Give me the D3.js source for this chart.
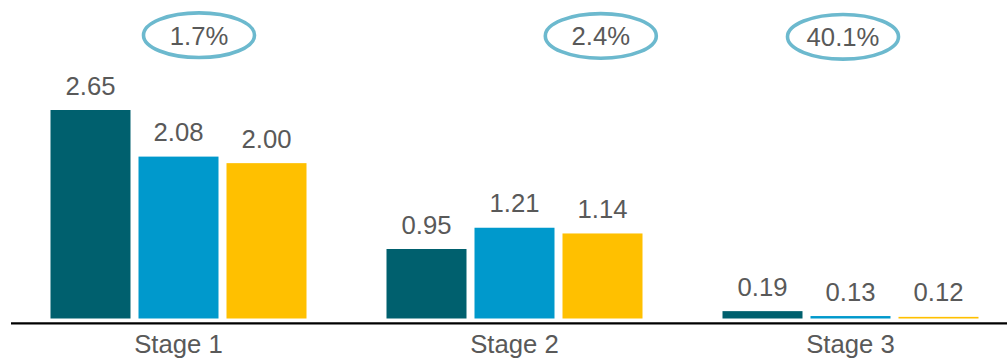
<!DOCTYPE html>
<html>
<head>
<meta charset="utf-8">
<script src="https://cdn.jsdelivr.net/npm/d3@7"></script>
<style>
  html, body { margin: 0; padding: 0; background: #ffffff; }
  svg { display: block; font-family: "Liberation Sans", Arial, sans-serif; }
</style>
</head>
<body>
<svg id="chart" width="1007" height="358"></svg>
<script>
// ---- data ----
const categories = ["Stage 1", "Stage 2", "Stage 3"];
const seriesNames = ["A", "B", "C"];
const seriesA = [2.65, 0.95, 0.19];
const seriesB = [2.08, 1.21, 0.13];
const seriesC = [2.00, 1.14, 0.12];
const annotationLabels = ["1.7%", "2.4%", "40.1%"];

// ---- layout / style ----
const W = 1007, H = 358;
const colors = ["#00606E", "#0099CC", "#FFC000"];
const textColor = "#595959";
const ellipseColor = "#6CB9CE";
const annotationPos = [[199, 35.2], [600.8, 35.9], [843, 36.8]];
const fontSize = 25.7;

const svg = d3.select("#chart");

const x0 = d3.scaleBand().domain(categories).range([10.5, 1018.5]).padding(0);
const x1 = d3.scaleBand().domain(seriesNames).range([0, 264])
  .paddingInner(8 / 88).paddingOuter(4 / 88);
const y = d3.scaleLinear().domain([0.1, 2.65]).range([318.5, 110]);
const color = d3.scaleOrdinal().domain(seriesNames).range(colors);

const allSeries = [seriesA, seriesB, seriesC];
const rows = categories.map((c, i) => ({
  cat: c,
  vals: seriesNames.map((s, j) => ({ s, v: allSeries[j][i] }))
}));

const groups = svg.append("g").selectAll("g").data(rows).join("g")
  .attr("transform", d => `translate(${x0(d.cat) + x0.bandwidth() / 2 - 132},0)`);

groups.selectAll("rect").data(d => d.vals).join("rect")
  .attr("x", d => x1(d.s))
  .attr("width", x1.bandwidth())
  .attr("y", d => y(d.v))
  .attr("height", d => y(0.1) - y(d.v))
  .attr("fill", d => color(d.s));

groups.selectAll("text").data(d => d.vals).join("text")
  .attr("x", d => x1(d.s) + x1.bandwidth() / 2)
  .attr("y", d => y(d.v) - 15.5)
  .attr("text-anchor", "middle")
  .attr("fill", textColor)
  .style("font-size", fontSize + "px")
  .text(d => d.v.toFixed(2));

// axis
const axis = svg.append("g")
  .attr("transform", "translate(0,322.8)")
  .call(d3.axisBottom(x0).tickSize(0).tickSizeOuter(0));
axis.select(".domain").attr("stroke", "#000").attr("stroke-width", 2.3);
axis.selectAll(".tick text")
  .attr("y", 30.5).attr("dy", 0)
  .attr("fill", textColor)
  .style("font-size", fontSize + "px")
  .style("font-family", "'Liberation Sans', Arial, sans-serif");

// annotations
const ann = svg.append("g").selectAll("g").data(annotationLabels).join("g")
  .attr("transform", (d, i) => `translate(${annotationPos[i][0]},${annotationPos[i][1]})`);
ann.append("ellipse")
  .attr("rx", 55.5).attr("ry", 22.3)
  .attr("fill", "none")
  .attr("stroke", ellipseColor)
  .attr("stroke-width", 3.6);
ann.append("text")
  .attr("y", 9.5)
  .attr("text-anchor", "middle")
  .attr("fill", textColor)
  .style("font-size", fontSize + "px")
  .text(d => d);
</script>
</body>
</html>
